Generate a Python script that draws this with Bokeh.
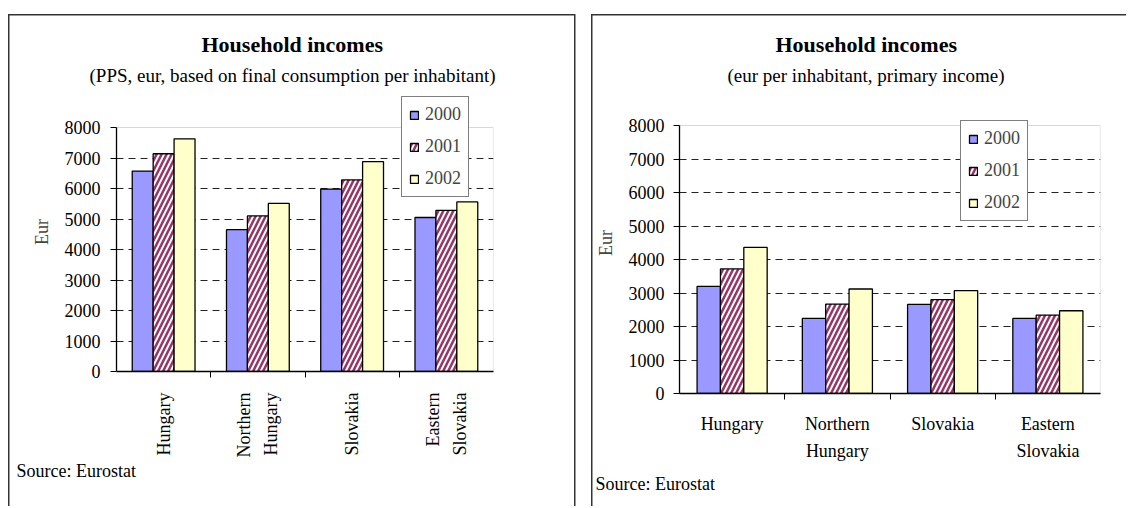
import math
from bokeh.plotting import figure
from bokeh.models import (FactorRange, Range1d, LinearAxis, CategoricalAxis, FixedTicker,
                          Legend, LegendItem, Title, BoxAnnotation, ColumnDataSource, Grid)
from bokeh.transform import dodge
from bokeh.layouts import row
from bokeh.embed import file_html
from bokeh.resources import INLINE

# ---------------- data ----------------
regions = ["Hungary", "Northern\nHungary", "Slovakia", "Eastern\nSlovakia"]
years = ["2000", "2001", "2002"]

# left chart: PPS, eur, based on final consumption per inhabitant
pps_2000 = [6570, 4650, 5980, 5050]
pps_2001 = [7140, 5100, 6280, 5280]
pps_2002 = [7630, 5510, 6880, 5560]

# right chart: eur per inhabitant, primary income
prim_2000 = [3200, 2240, 2660, 2240]
prim_2001 = [3720, 2670, 2800, 2340]
prim_2002 = [4360, 3120, 3070, 2470]

y_max = 8000
y_ticks = [0, 1000, 2000, 3000, 4000, 5000, 6000, 7000, 8000]
grid_ticks = [1000, 2000, 3000, 4000, 5000, 6000, 7000]
# category boundaries (Excel-style tick marks between the groups), unlabeled
edges = [" " * (i + 1) for i in range(len(regions) + 1)]

title_text = "Household incomes"
sub_left = "(PPS, eur, based on final consumption per inhabitant)"
sub_right = "(eur per inhabitant, primary income)"
source_text = "Source: Eurostat"
y_label = "Eur"

FONT = "Liberation Serif"
C2000 = "#9999FF"
C2002 = "#FFFFCC"
HATCH = "#993366"


def frames_css(lines):
    """CSS background lines drawing the outer chart-object frames.
    lines: list of (x, y, w, h) strings."""
    g = "linear-gradient(#333333,#333333)"
    return {"background-image": ", ".join([g] * len(lines)),
            "background-position": ", ".join("%s %s" % (l[0], l[1]) for l in lines),
            "background-size": ", ".join("%s %s" % (l[2], l[3]) for l in lines),
            "background-repeat": "no-repeat",
            "background-color": "white"}


def make_panel(width, height, frame_px, vals, subtitle, rotate, legend_loc,
               title_off, sub_off, src_off, src_standoff, tick_standoff, lab_standoff):
    # frame_px: (left, right, frame_top, plot_top(8000), plot_bottom(0)) in canvas px
    fl, fr, ftop, ptop, pbot = frame_px
    y_end = y_max * (pbot - ftop) / (pbot - ptop)
    p = figure(x_range=FactorRange(factors=regions), y_range=Range1d(0, y_end),
               extra_x_ranges={"edges": FactorRange(factors=edges, range_padding=-0.5,
                                                    range_padding_units="absolute")},
               width=width, height=height, title=None,
               min_border_left=fl, min_border_right=width - fr,
               min_border_top=ftop, min_border_bottom=height - pbot,
               x_axis_location=None, y_axis_location=None,
               output_backend="svg", toolbar_location=None,
               background_fill_color="white", border_fill_color=None)
    p.center = []
    p.outline_line_color = None

    # plot-area box (gray top/right edges, like the Excel plot area)
    p.add_layout(BoxAnnotation(top=y_max, bottom=0, fill_color=None, fill_alpha=0,
                               line_color="#808080", line_width=1.2, level="underlay"))

    grid = Grid(dimension=1, ticker=FixedTicker(ticks=grid_ticks),
                grid_line_color="#222222", grid_line_dash="7 5", grid_line_width=1)
    p.add_layout(grid)

    src = ColumnDataSource(dict(region=regions, y0=vals[0], y1=vals[1], y2=vals[2]))
    w = 0.222
    r0 = p.vbar(x=dodge("region", -w, range=p.x_range), top="y0", width=w, source=src,
                fill_color=C2000, line_color="black", line_width=1.3)
    r1 = p.vbar(x=dodge("region", 0, range=p.x_range), top="y1", width=w, source=src,
                fill_color="white", line_color="black", line_width=1.3,
                hatch_pattern="/", hatch_color=HATCH, hatch_weight=2.5, hatch_scale=10)
    r2 = p.vbar(x=dodge("region", w, range=p.x_range), top="y2", width=w, source=src,
                fill_color=C2002, line_color="black", line_width=1.3)

    yaxis = LinearAxis(ticker=FixedTicker(ticks=y_ticks), bounds=(0, y_max),
                       axis_label=y_label,
                       axis_line_color="black", axis_line_width=1.3,
                       major_tick_out=6, major_tick_in=0, major_tick_line_color="black",
                       minor_tick_line_color=None,
                       major_label_standoff=tick_standoff,
                       major_label_text_font=FONT, major_label_text_font_size="18px",
                       major_label_text_color="black",
                       axis_label_text_font=FONT, axis_label_text_font_size="18px",
                       axis_label_text_font_style="normal", axis_label_standoff=10)
    p.add_layout(yaxis, "left")

    tick_axis = CategoricalAxis(x_range_name="edges",
                                axis_line_color="black", axis_line_width=1.3,
                                major_tick_out=6, major_tick_in=0,
                                major_tick_line_color="black",
                                minor_tick_line_color=None, major_label_standoff=0,
                                major_label_text_font_size="2px")
    p.add_layout(tick_axis, "below")

    label_axis = CategoricalAxis(axis_line_color=None, major_tick_line_color=None,
                                 minor_tick_line_color=None,
                                 major_label_text_font=FONT,
                                 major_label_text_font_size="18px",
                                 major_label_text_color="black",
                                 major_label_text_line_height=1.35,
                                 major_label_standoff=lab_standoff,
                                 major_label_orientation=(math.pi / 2 if rotate else "horizontal"))
    p.add_layout(label_axis, "below")

    p.add_layout(Title(text=source_text, align="left", offset=src_off,
                       vertical_align="top", standoff=src_standoff,
                       text_font=FONT, text_font_size="18px", text_font_style="normal",
                       text_color="black"), "below")

    p.add_layout(Title(text=subtitle, align="left", offset=sub_off, standoff=13,
                       text_font=FONT, text_font_size="19px", text_font_style="normal",
                       text_color="black"), "above")
    p.add_layout(Title(text=title_text, align="left", offset=title_off, standoff=0,
                       text_font=FONT, text_font_size="22px", text_font_style="bold",
                       text_color="black"), "above")

    legend = Legend(items=[LegendItem(label=years[0], renderers=[r0]),
                           LegendItem(label=years[1], renderers=[r1]),
                           LegendItem(label=years[2], renderers=[r2])],
                    location=legend_loc, orientation="vertical",
                    border_line_color="black", border_line_width=1,
                    background_fill_color="white", background_fill_alpha=1,
                    padding=7, spacing=11, margin=0,
                    glyph_width=10, glyph_height=10, label_standoff=6,
                    label_height=20,
                    label_text_font=FONT, label_text_font_size="18px")
    p.add_layout(legend)
    return p


# both figures share the same top/bottom border (row aligns them), so the
# left one is shorter to put its axis higher, as in the reference
p1 = make_panel(589, 484, (116, 493, 92, 127, 371), [pps_2000, pps_2001, pps_2002],
                sub_left, True, (285, 174),
                85, -27, -100, 0, 10, 4)
p2 = make_panel(537, 506, (90, 511, 92, 125, 393), [prim_2000, prim_2001, prim_2002],
                sub_right, False, (281, 172),
                96, 48, -84, 20, 9, 3)

layout = row(p1, p2, spacing=0,
             styles=frames_css([("8px", "14px", "1.5px", "100%"),
                                ("8px", "14px", "567px", "1.5px"),
                                ("574px", "14px", "1.5px", "100%"),
                                ("591px", "14px", "1.5px", "100%"),
                                ("591px", "14px", "600px", "1.5px")]))
open("out.html", "w").write(file_html(layout, INLINE))
